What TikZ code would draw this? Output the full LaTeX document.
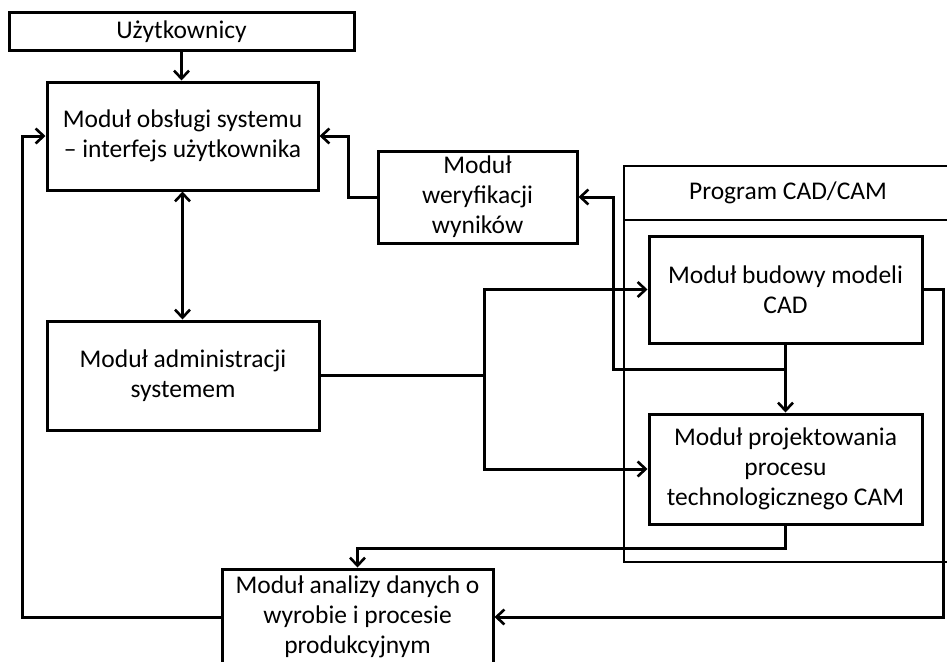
\documentclass[tikz,border=0pt]{standalone}
\usepackage{fontspec}
\setmainfont{Carlito}
\usetikzlibrary{arrows.meta,calc}
\begin{document}
\begin{tikzpicture}[x=1pt,y=-1pt,line width=3pt,>={Straight Barb[length=8pt,width=15pt,line width=2.6pt]},
    font=\fontsize{25.5}{30}\selectfont,
    box/.style={draw,inner sep=0pt,align=center,minimum width=#1},
    thinframe/.style={line width=1.2pt}]
    \useasboundingbox (0,0) rectangle (947,661);
    % ramka programu CAD/CAM
    \draw[thinframe](624,166) rectangle (962,562);
    \draw[thinframe](624,220)--(962,220);
    \node (cadcam) at (788,193) {Program CAD/CAM};
    % moduly
    \node[box=345pt,minimum height=38pt] (users) at (181.5,31.5) {Użytkownicy};
    \node[box=271pt,minimum height=108pt] (obsl) at (182.5,136) {Moduł obsługi systemu\\– interfejs użytkownika};
    \node[box=272pt,minimum height=109pt] (admin) at (183,375.5) {Moduł administracji\\systemem};
    \node[box=199pt,minimum height=92pt] (weryf) at (477.5,197) {Moduł\\weryfikacji\\wyników};
    \node[box=273pt,minimum height=107pt] (cad) at (785.5,289.5) {Moduł budowy modeli\\CAD};
    \node[box=273pt,minimum height=110pt] (cam) at (785.5,469) {Moduł projektowania\\procesu\\technologicznego CAM};
    \node[box=271pt,minimum height=96pt] (anal) at (357.5,617) {Moduł analizy danych o\\wyrobie i procesie\\produkcyjnym};
    % szyny polaczen
    \coordinate (lrail) at (22,0);
    \coordinate (mrail) at (348,0);
    \coordinate (brail) at (484,0);
    \coordinate (vrail) at (613,0);
    \coordinate (rrail) at (943,0);
    \coordinate (split) at ($(cad.south)!0.37!(cam.north)$);
    % polaczenia
    \draw[->](users.south)--(users.south|-obsl.north);
    \draw[<->](obsl.south)--(obsl.south|-admin.north);
    \draw[->](anal.west)--(anal.west-|lrail)|-(obsl.west);
    \draw[->](weryf.west)--(weryf.west-|mrail)|-(obsl.east);
    \draw[->](admin.east)--(admin.east-|brail)|-(cad.west);
    \draw[->](admin.east-|brail)|-(cam.west);
    \draw[->](cad.south)--(cam.north);
    \draw[->](split)--(split-|vrail)|-(weryf.east);
    \draw[->](cam.south)--++(0,23)-|(anal.north);
    \draw[->](cad.east)--(cad.east-|rrail)|-(anal.east);
\end{tikzpicture}
\end{document}
